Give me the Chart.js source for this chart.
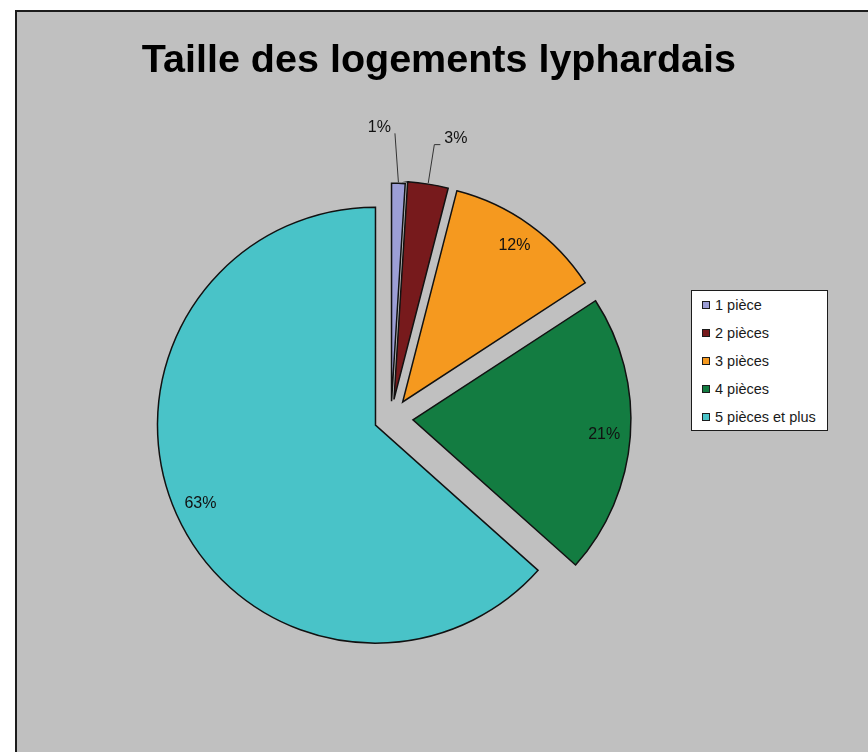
<!DOCTYPE html>
<html lang="fr">
<head>
<meta charset="utf-8">
<title>Taille des logements lyphardais</title>
<script src="https://cdn.jsdelivr.net/npm/chart.js@4.4.1/dist/chart.umd.min.js"></script>
<style>
  html, body { margin: 0; padding: 0; background: #fff; overflow: hidden; }
  #panel {
    position: absolute; left: 15px; top: 10px; width: 900px; height: 800px;
    background: #c0c0c0; border-left: 2px solid #1c1c1c; border-top: 2px solid #1c1c1c;
  }
  #graph { position: absolute; left: 0; top: 0; }
  #legend {
    position: absolute; left: 691px; top: 290px; width: 135px; height: 139px;
    background: #fff; border: 1px solid #1c1c1c;
    font: 14.5px "Liberation Sans", Arial, sans-serif; color: #1a1a1a;
  }
  #legend ul { list-style: none; margin: 0; padding: 0; }
  #legend li { height: 28px; display: flex; align-items: center; padding-left: 10px; white-space: nowrap; }
  #legend span.box { width: 6px; height: 6px; border: 1px solid #1c1c1c; margin-right: 5px; }
</style>
</head>
<body>
<div id="panel"></div>
<canvas id="graph" width="868" height="752"></canvas>
<div id="legend"></div>
<script>
// data
const categories = ['1 pièce', '2 pièces', '3 pièces', '4 pièces', '5 pièces et plus'];
const shares = [1.0, 3.0, 11.8, 20.8, 63.4];
const colors = ['#9c9ed6', '#771a1c', '#f5991f', '#137c41', '#49c3c8'];

// exploded distance of each slice (px), and how the small labels sit outside
const explode = [17, 19, 20, 22, 17];
const outside = {
  0: { side: -1, len: 50, lean: -5, tick: 0 },
  1: { side: 1, len: 40, lean: 0, tick: 6 }
};

// chart.js grows small exploded slices; keep the radius and just move them
const baseArcDraw = Chart.ArcElement.prototype.draw;
Chart.ArcElement.prototype.draw = function (ctx) {
  const opts = this.options;
  const shift = opts.offset || 0;
  const mid = (this.startAngle + this.endAngle) / 2;
  this.options = Object.assign({}, opts, { offset: 0 });
  ctx.save();
  ctx.translate(Math.cos(mid) * shift, Math.sin(mid) * shift);
  baseArcDraw.call(this, ctx);
  ctx.restore();
  this.options = opts;
};

const sliceLabels = {
  id: 'sliceLabels',
  afterDatasetsDraw(chart) {
    const ctx = chart.ctx;
    const meta = chart.getDatasetMeta(0);
    const total = shares.reduce((a, b) => a + b, 0);
    ctx.save();
    ctx.font = '16px "Liberation Sans", Arial, sans-serif';
    ctx.fillStyle = '#111';
    ctx.strokeStyle = '#333';
    ctx.lineWidth = 1;
    meta.data.forEach((arc, i) => {
      const pct = Math.round(shares[i] / total * 100);
      const text = pct + '%';
      const mid = (arc.startAngle + arc.endAngle) / 2;
      const cos = Math.cos(mid), sin = Math.sin(mid);
      const shift = arc.options.offset || 0;
      const ox = arc.x + cos * shift, oy = arc.y + sin * shift;
      const r = arc.outerRadius;
      if (pct >= 5) {
        ctx.textAlign = 'center';
        ctx.textBaseline = 'middle';
        ctx.fillText(text, ox + cos * r * 0.88, oy + sin * r * 0.88);
      } else {
        const o = outside[i] || { side: 1, len: 40, lean: 0, tick: 6 };
        const x0 = ox + cos * (r + 1), y0 = oy + sin * (r + 1);
        const x1 = ox + cos * (r + o.len) + o.lean, y1 = oy + sin * (r + o.len);
        const x2 = x1 + o.side * o.tick;
        ctx.beginPath();
        ctx.moveTo(x0, y0);
        ctx.lineTo(x1, y1);
        ctx.lineTo(x2, y1);
        ctx.stroke();
        ctx.textAlign = o.side < 0 ? 'right' : 'left';
        ctx.textBaseline = 'middle';
        ctx.fillText(text, x2 + o.side * 4, y1 - 6);
      }
    });
    ctx.restore();
  }
};

const chart = new Chart(document.getElementById('graph'), {
  type: 'pie',
  data: {
    labels: categories,
    datasets: [{
      data: shares,
      backgroundColor: colors,
      borderColor: '#111',
      borderWidth: 1.5,
      borderJoinStyle: 'miter',
      offset: explode
    }]
  },
  options: {
    responsive: false,
    animation: false,
    events: [],
    radius: 218,
    layout: { padding: { left: 46, right: 132, top: 0, bottom: 10 } },
    plugins: {
      title: {
        display: true,
        text: 'Taille des logements lyphardais',
        align: 'end',
        color: '#000',
        font: { family: '"Liberation Sans", Arial, sans-serif', size: 39.5, weight: 'bold' },
        padding: { top: 37, bottom: 10 }
      },
      legend: { display: false },
      tooltip: { enabled: false }
    }
  },
  plugins: [sliceLabels]
});

// html legend from the chart's own legend items
const list = document.createElement('ul');
chart.options.plugins.legend.labels.generateLabels(chart).forEach(item => {
  const li = document.createElement('li');
  const box = document.createElement('span');
  box.className = 'box';
  box.style.background = item.fillStyle;
  li.appendChild(box);
  li.appendChild(document.createTextNode(item.text));
  list.appendChild(li);
});
document.getElementById('legend').appendChild(list);
</script>
</body>
</html>
